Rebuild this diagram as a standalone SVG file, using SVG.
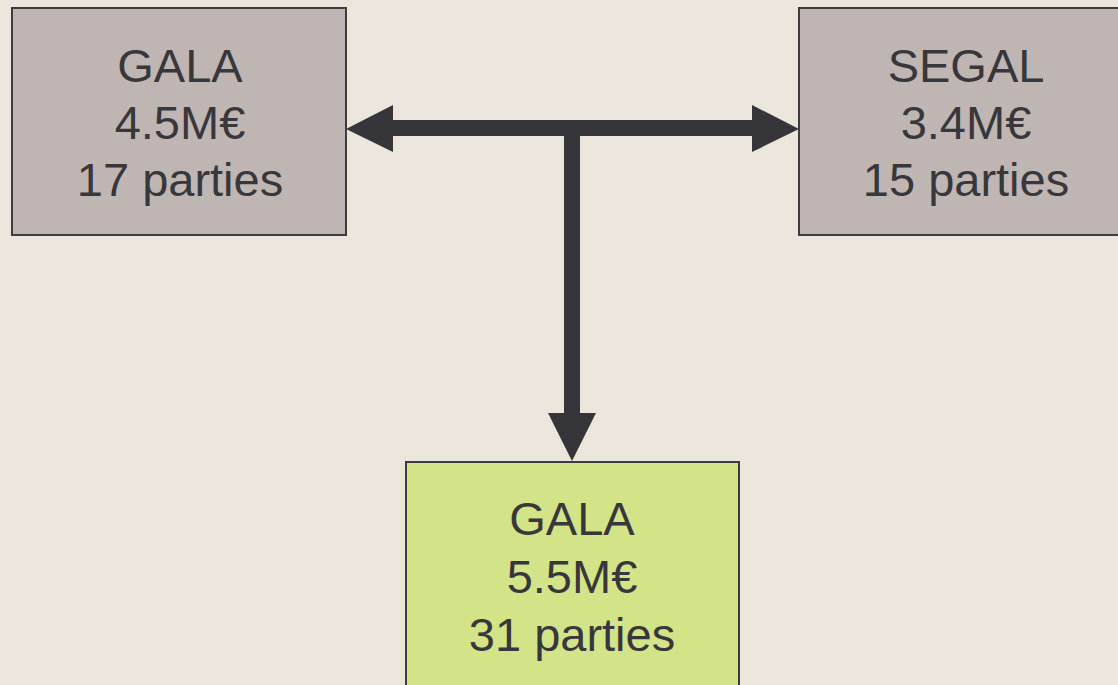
<svg xmlns="http://www.w3.org/2000/svg" width="1118" height="685" viewBox="0 0 1118 685">
<style>
.box{stroke:#3c3b3f;stroke-width:2}
.gray{fill:#bfb6b3}
.green{fill:#d3e388}
.t{font-family:"Liberation Sans",Arial,sans-serif;font-size:47px;fill:#38373b;text-anchor:middle}
.conn{fill:#36353a}
</style>
<rect width="1118" height="685" fill="#ebe5dc"/>
<g id="connectors" class="conn">
<rect x="392" y="120" width="362" height="16"/>
<rect x="564" y="128" width="16" height="287"/>
<polygon points="346,129 393,105 393,152"/>
<polygon points="799,129 752,105 752,152"/>
<polygon points="548,413 596,413 572,461"/>
</g>
<g id="node-gala-left">
<rect class="box gray" x="12" y="8" width="334" height="227"/>
<text class="t" x="180" y="82">GALA</text>
<text class="t" x="180" y="139">4.5M€</text>
<text class="t" x="180" y="196">17 parties</text>
</g>
<g id="node-segal">
<rect class="box gray" x="799" y="8" width="334" height="227"/>
<text class="t" x="966" y="82">SEGAL</text>
<text class="t" x="966" y="139">3.4M€</text>
<text class="t" x="966" y="196">15 parties</text>
</g>
<g id="node-gala-bottom">
<rect class="box green" x="406" y="462" width="333" height="240"/>
<text class="t" x="572" y="535">GALA</text>
<text class="t" x="572" y="593">5.5M€</text>
<text class="t" x="572" y="651">31 parties</text>
</g>
</svg>
